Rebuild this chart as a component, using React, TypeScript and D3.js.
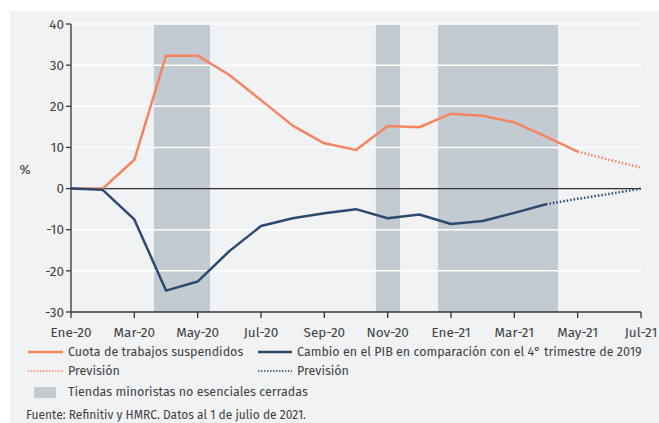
import React from "react";
import * as d3 from "d3";

const monthLabels = ["Ene-20", "Mar-20", "May-20", "Jul-20", "Sep-20", "Nov-20", "Ene-21", "Mar-21", "May-21", "Jul-21"];
const monthIndex = d3.range(0, 19);
const furlough = [0, 0, 7, 32.3, 32.3, 27.6, 21.5, 15.3, 11.0, 9.4, 15.2, 14.9, 18.2, 17.7, 16.1, 12.6, 9.0];
const furloughForecast = [null, null, null, null, null, null, null, null, null, null, null, null, null, null, null, null, 9.0, 7.0, 5.1];
const gdp = [0, -0.3, -7.5, -24.8, -22.6, -15.2, -9.1, -7.2, -6.0, -5.0, -7.2, -6.3, -8.6, -7.9, -5.9, -3.8];
const gdpForecast = [null, null, null, null, null, null, null, null, null, null, null, null, null, null, null, -3.8, -2.5, -1.3, 0];
const closures: [number, number][] = [[2.62, 4.39], [9.63, 10.39], [11.59, 15.38]];
const yTicks = [40, 30, 20, 10, 0, -10, -20, -30];

const ORANGE = "#f5845f";
const NAVY = "#2c4a70";
const SHADE = "#c3cbd2";
const BG = "#f0f2f4";
const TEXT = "#3f3f3f";
const FONT = "'Fira Sans', 'Open Sans', 'Noto Sans', sans-serif";

export default function App() {
  const W = 659, H = 423;
  const x = d3.scaleLinear().domain([0, 18]).range([71, 641]);
  const y = d3.scaleLinear().domain([-30, 40]).range([312, 24]);
  const line = d3.line<number | null>()
    .defined((d) => d !== null)
    .x((_, i) => x(monthIndex[i]))
    .y((d) => y(d as number));

  return (
    <div style={{ position: "absolute", left: 0, top: 0 }}>
      <svg width={W} height={H} style={{ display: "block", fontFamily: FONT }}>
        <rect x={10} y={11} width={W - 10} height={H - 11} fill={BG} />
        {closures.map(([a, b], i) => (
          <rect key={i} x={x(a)} y={y(40)} width={x(b) - x(a)} height={y(-30) - y(40)} fill={SHADE} />
        ))}
        {yTicks.filter((t) => t !== 0 && t !== -30).map((t) => (
          <line key={t} x1={x(0)} x2={x(18)} y1={y(t)} y2={y(t)} stroke="#ffffff" strokeWidth={1.5} />
        ))}
        <line x1={x(0)} x2={x(18)} y1={y(0)} y2={y(0)} stroke="#333" strokeWidth={1.3} />
        <path d={line(furlough) || ""} fill="none" stroke={ORANGE} strokeWidth={2.5} strokeLinejoin="round" />
        <path d={line(furloughForecast) || ""} fill="none" stroke={ORANGE} strokeWidth={2.5} strokeDasharray="1.5 2" />
        <path d={line(gdp) || ""} fill="none" stroke={NAVY} strokeWidth={2.5} strokeLinejoin="round" />
        <path d={line(gdpForecast) || ""} fill="none" stroke={NAVY} strokeWidth={2.5} strokeDasharray="1.5 2" />
        {/* y axis */}
        <line x1={x(0)} x2={x(0)} y1={y(40)} y2={y(-30)} stroke="#333" strokeWidth={1.3} />
        {yTicks.map((t) => (
          <g key={t}>
            <line x1={x(0) - 5} x2={x(0)} y1={y(t)} y2={y(t)} stroke="#333" strokeWidth={1.3} />
            <text x={x(0) - 7} y={y(t)} dy="0.35em" textAnchor="end" fontSize={13.5} fill={TEXT}>{t}</text>
          </g>
        ))}
        <text x={25} y={169} dy="0.35em" textAnchor="middle" fontSize={13.5} fill={TEXT}>%</text>
        {/* x axis */}
        <line x1={x(0)} x2={x(18)} y1={y(-30)} y2={y(-30)} stroke="#333" strokeWidth={1.3} />
        {monthLabels.map((m, i) => (
          <g key={m}>
            <line x1={x(i * 2)} x2={x(i * 2)} y1={y(-30)} y2={y(-30) + 6} stroke="#333" strokeWidth={1.3} />
            <text x={x(i * 2)} y={y(-30) + 20} dy="0.35em" textAnchor="middle" fontSize={13.5} fill={TEXT}>{m}</text>
          </g>
        ))}
        {/* legend */}
        <g fontSize={12.5} fill={TEXT}>
          <line x1={28} x2={63} y1={352} y2={352} stroke={ORANGE} strokeWidth={2.5} />
          <text x={68} y={352} dy="0.35em">Cuota de trabajos suspendidos</text>
          <line x1={258} x2={292} y1={352} y2={352} stroke={NAVY} strokeWidth={2.5} />
          <text x={297} y={352} dy="0.35em">Cambio en el PIB en comparación con el 4° trimestre de 2019</text>
          <line x1={28} x2={63} y1={371} y2={371} stroke={ORANGE} strokeWidth={1.5} strokeDasharray="1.5 1.5" />
          <text x={68} y={371} dy="0.35em">Previsión</text>
          <line x1={258} x2={292} y1={371} y2={371} stroke={NAVY} strokeWidth={1.5} strokeDasharray="1.5 1.5" />
          <text x={297} y={371} dy="0.35em">Previsión</text>
          <rect x={34} y={387} width={22} height={11} fill={SHADE} />
          <text x={68} y={392} dy="0.35em">Tiendas minoristas no esenciales cerradas</text>
          <text x={26} y={415} dy="0.35em" fontSize={12}>Fuente: Refinitiv y HMRC. Datos al 1 de julio de 2021.</text>
        </g>
      </svg>
    </div>
  );
}
